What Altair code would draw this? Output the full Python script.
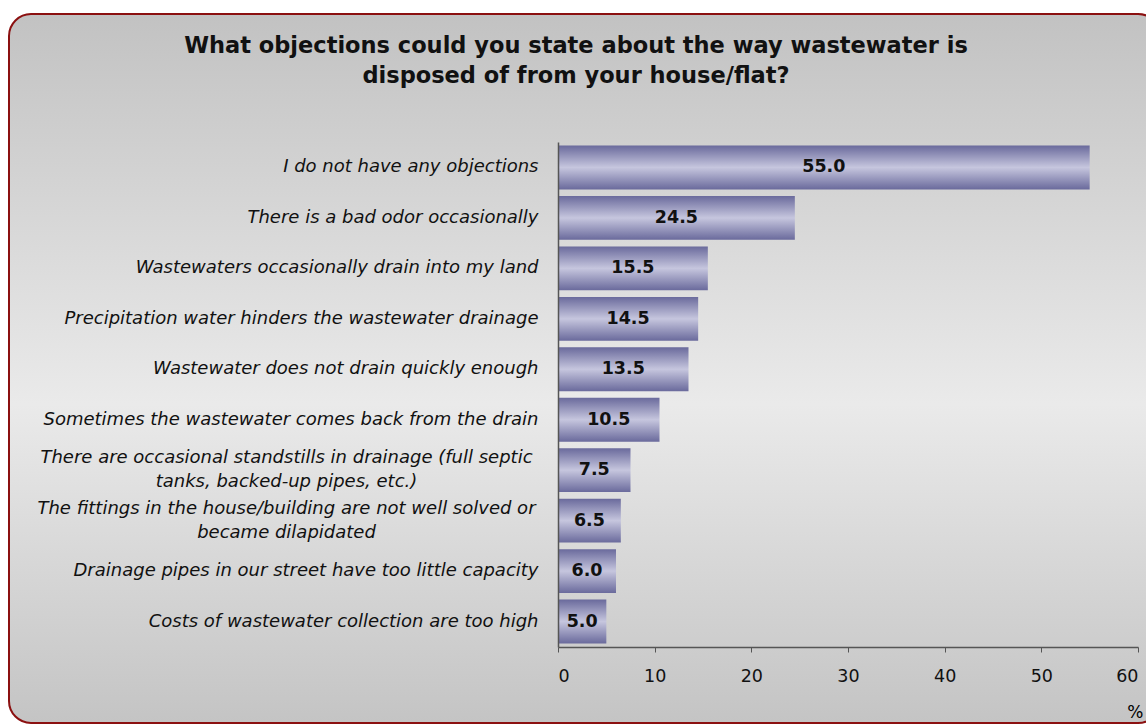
import altair as alt
import pandas as pd

categories = [
    "I do not have any objections",
    "There is a bad odor occasionally",
    "Wastewaters occasionally drain into my land",
    "Precipitation water hinders the wastewater drainage",
    "Wastewater does not drain quickly enough",
    "Sometimes the wastewater comes back from the drain",
    "There are occasional standstills in drainage (full septic\ntanks, backed-up pipes, etc.)",
    "The fittings in the house/building are not well solved or\nbecame dilapidated",
    "Drainage pipes in our street have too little capacity",
    "Costs of wastewater collection are too high",
]
values = [55.0, 24.5, 15.5, 14.5, 13.5, 10.5, 7.5, 6.5, 6.0, 5.0]
x_ticks = [0, 10, 20, 30, 40, 50, 60]
title_lines = ["What objections could you state about the way wastewater is",
               "disposed of from your house/flat?"]

df = pd.DataFrame({"cat": categories, "val": values})

W, H = 580, 505
LEFT, TOP = 558, 142
FONT = "DejaVu Sans"

bar_grad = alt.LinearGradient(
    gradient="linear", x1=0, x2=0, y1=0, y2=1,
    stops=[
        alt.GradientStop(color="#6a6a9c", offset=0),
        alt.GradientStop(color="#c6c6de", offset=0.5),
        alt.GradientStop(color="#6a6a9c", offset=1),
    ],
)
bg_grad = alt.LinearGradient(
    gradient="linear", x1=0, x2=0, y1=0, y2=1,
    stops=[
        alt.GradientStop(color="#c2c2c2", offset=0),
        alt.GradientStop(color="#eaeaea", offset=0.55),
        alt.GradientStop(color="#c4c4c4", offset=1),
    ],
)

one = pd.DataFrame({"a": [0]})

background = alt.Chart(one).mark_rect(
    fill=bg_grad, stroke="#8b1010", strokeWidth=2, cornerRadius=22, clip=False
).encode(
    x=alt.value(9 - LEFT), x2=alt.value(1160 - LEFT),
    y=alt.value(14 - TOP), y2=alt.value(723 - TOP),
)

title = alt.Chart(one).mark_text(
    text=title_lines, font=FONT, fontSize=22.5, fontWeight="bold", color="#111111",
    align="center", baseline="middle", lineHeight=30, clip=False,
).encode(x=alt.value(576 - LEFT), y=alt.value(46 - TOP))

multi = "indexof(datum.label, '\\n') >= 0"

y_enc = alt.Y(
    "cat:N", sort=categories, title=None,
    scale=alt.Scale(paddingInner=0.13, paddingOuter=0.07),
    axis=alt.Axis(
        labelExpr="split(datum.label, '\\n')",
        labelFont=FONT, labelFontSize=18, labelFontStyle="italic",
        labelColor="#111111", labelLimit=600, labelLineHeight=24,
        labelAlign={"condition": {"test": multi, "value": "center"}, "value": "right"},
        labelPadding={"condition": {"test": multi, "value": 272}, "value": 20},
        labelOffset={"condition": {"test": multi, "value": -12}, "value": 0},
        tickSize=0, domainColor="#555555", domainWidth=1.5, grid=False, zindex=2,
    ),
)

x_enc = alt.X(
    "val:Q",
    scale=alt.Scale(domain=[0, 60], nice=False),
    axis=alt.Axis(
        values=x_ticks, title="%", titleAnchor="end", titleFont=FONT,
        titleFontWeight="normal", titleFontSize=17, titlePadding=20,
        titleX=W + 5, labelFont=FONT, labelFontSize=17.5, labelColor="#111111",
        labelPadding=15, tickSize=5, tickColor="#555555", domainColor="#555555",
        domainWidth=1.5, grid=False, zindex=2,
    ),
)

bars = alt.Chart(df).mark_bar(fill=bar_grad).encode(y=y_enc, x=x_enc)

labels = alt.Chart(df).transform_calculate(
    mid="datum.val / 2", lab="format(datum.val, '.1f')"
).mark_text(
    font=FONT, fontSize=17.5, fontWeight="bold", color="#111111"
).encode(
    y=alt.Y("cat:N", sort=categories),
    x=alt.X("mid:Q"),
    text="lab:N",
)

chart = alt.layer(background, title, bars, labels).properties(
    width=W, height=H,
    autosize=alt.AutoSizeParams(type="none"),
    padding={"left": LEFT, "top": TOP, "right": 1146 - LEFT - W, "bottom": 724 - TOP - H},
).configure_view(stroke=None).configure(background="white")

chart.save("out.html", embed_options={"renderer": "svg", "actions": False})
